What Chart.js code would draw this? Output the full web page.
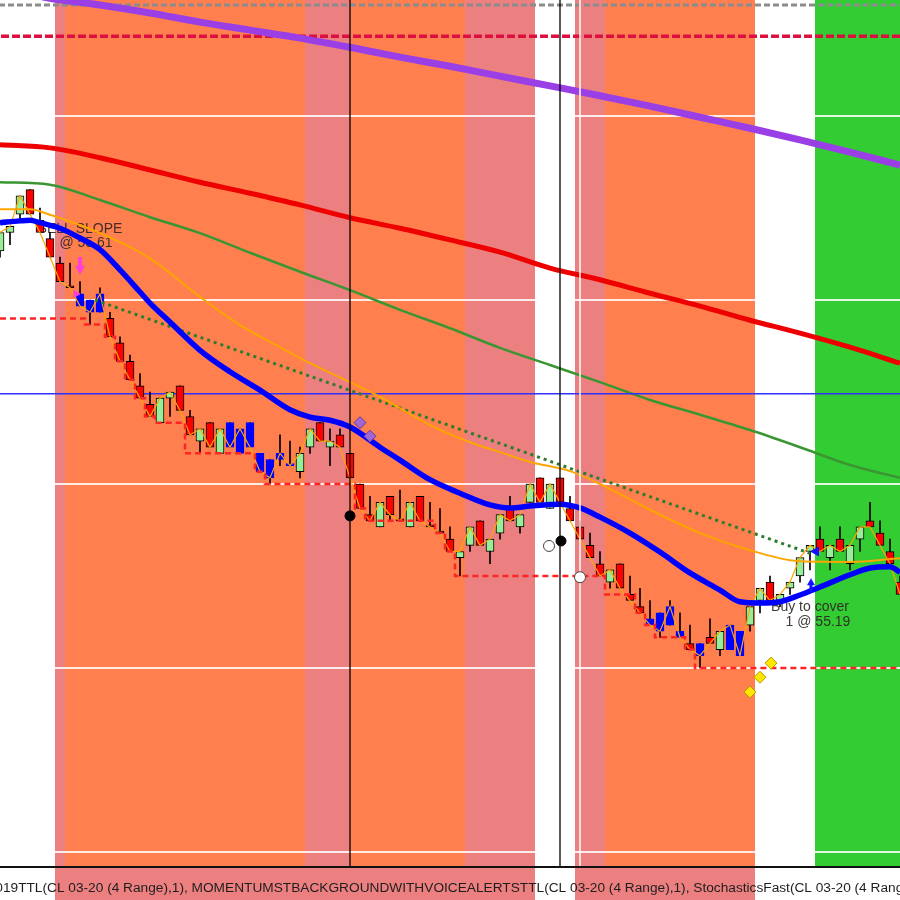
<!DOCTYPE html>
<html>
<head>
<meta charset="utf-8">
<title>CL 03-20 (4 Range)</title>
<script src="https://cdn.jsdelivr.net/npm/chart.js@4.4.1/dist/chart.umd.min.js"></script>
<style>
html,body{margin:0;padding:0;background:#ffffff;overflow:hidden;}
canvas{display:block;}
</style>
</head>
<body>
<canvas id="chart" width="900" height="900"></canvas>
<script>
// ---------- Candles: CL 03-20, 4-tick range bars (bar index = position) ----------
const opens  = [55.68,55.71,55.74,55.78,55.73,55.70,55.66,55.62,55.61,55.60,
                55.58,55.57,55.53,55.50,55.46,55.43,55.40,55.44,55.46,55.41,
                55.37,55.40,55.35,55.40,55.35,55.40,55.35,55.34,55.34,55.33,
                55.32,55.36,55.40,55.36,55.38,55.35,55.30,55.25,55.23,55.28,
                55.24,55.23,55.28,55.23,55.22,55.21,55.18,55.20,55.24,55.19,
                55.22,55.26,55.23,55.27,55.31,55.26,55.31,55.26,55.23,55.20,
                55.17,55.14,55.17,55.12,55.10,55.08,55.09,55.07,55.06,55.04,
                55.04,55.05,55.03,55.03,55.06,55.07,55.11,55.14,55.11,55.13,
                55.15,55.19,55.21,55.18,55.21,55.17,55.21,55.24,55.22,55.19,
                55.14];
const highs  = [55.71,55.72,55.77,55.78,55.75,55.71,55.67,55.66,55.63,55.60,
                55.62,55.58,55.54,55.51,55.48,55.45,55.44,55.45,55.46,55.42,
                55.39,55.40,55.39,55.40,55.39,55.40,55.35,55.34,55.38,55.37,
                55.36,55.39,55.40,55.39,55.39,55.35,55.30,55.28,55.27,55.28,
                55.29,55.27,55.28,55.27,55.26,55.23,55.19,55.23,55.24,55.21,
                55.25,55.28,55.25,55.30,55.31,55.30,55.31,55.28,55.24,55.22,
                55.19,55.16,55.17,55.15,55.13,55.11,55.09,55.11,55.09,55.07,
                55.04,55.08,55.06,55.07,55.06,55.10,55.13,55.15,55.12,55.14,
                55.18,55.20,55.23,55.20,55.23,55.20,55.23,55.27,55.24,55.21,
                55.15];
const lows   = [55.67,55.69,55.73,55.74,55.71,55.67,55.63,55.62,55.59,55.56,
                55.58,55.54,55.50,55.47,55.44,55.41,55.40,55.41,55.42,55.38,
                55.35,55.36,55.35,55.36,55.35,55.36,55.32,55.30,55.33,55.33,
                55.31,55.35,55.37,55.33,55.36,55.31,55.26,55.24,55.23,55.24,
                55.24,55.23,55.24,55.23,55.22,55.19,55.15,55.19,55.20,55.17,
                55.21,55.24,55.22,55.27,55.27,55.26,55.27,55.24,55.21,55.18,
                55.15,55.13,55.13,55.11,55.09,55.07,55.05,55.07,55.05,55.03,
                55.00,55.04,55.02,55.03,55.02,55.06,55.09,55.11,55.10,55.12,
                55.14,55.16,55.19,55.16,55.19,55.16,55.19,55.23,55.20,55.17,
                55.12];
const closes = [55.71,55.72,55.77,55.74,55.71,55.67,55.63,55.62,55.59,55.58,
                55.61,55.54,55.50,55.47,55.44,55.41,55.44,55.45,55.42,55.38,
                55.39,55.36,55.39,55.36,55.39,55.36,55.32,55.31,55.35,55.33,
                55.35,55.39,55.37,55.37,55.36,55.31,55.26,55.24,55.27,55.25,
                55.24,55.27,55.24,55.23,55.22,55.19,55.19,55.23,55.20,55.21,
                55.25,55.24,55.25,55.30,55.27,55.30,55.27,55.24,55.21,55.18,
                55.15,55.16,55.13,55.11,55.09,55.07,55.06,55.10,55.05,55.03,
                55.02,55.04,55.06,55.07,55.02,55.10,55.13,55.11,55.12,55.14,
                55.18,55.20,55.19,55.20,55.19,55.20,55.23,55.23,55.20,55.17,
                55.12];
// g = up bar, r = down bar, b = highlighted (blue) bar
const barKinds = ['g','g','g','r','r','r','r','r','b','b',
                  'b','r','r','r','r','r','g','g','r','r',
                  'g','r','g','b','b','b','b','b','b','b',
                  'g','g','r','g','r','r','r','r','g','r',
                  'r','g','r','r','r','r','g','g','r','g',
                  'g','r','g','g','r','g','r','r','r','r',
                  'r','g','r','r','r','b','b','b','b','r',
                  'b','r','g','b','b','g','g','r','g','g',
                  'g','g','r','g','r','g','g','r','r','r',
                  'r'];

// ---------- Moving averages (bar index, price) ----------
const purpleBars = [0,5,10,15,20,25,30,35,40,45,50,55,60,65,70,75,80,85,90];
const purpleVals = [56.109,56.092,56.081,56.068,56.053,56.040,56.027,56.012,55.996,55.981,55.965,55.949,55.933,55.916,55.898,55.880,55.861,55.841,55.820];
const redBars    = [0,5,10,15,20,25,30,35,40,45,50,55,60,65,70,75,80,85,90];
const redVals    = [55.853,55.848,55.832,55.812,55.792,55.774,55.755,55.734,55.717,55.698,55.678,55.652,55.633,55.611,55.590,55.567,55.546,55.523,55.497];
const greenBars  = [0,5,10,15,20,25,30,35,40,45,50,55,60,65,70,75,80,85,90];
const greenVals  = [55.792,55.788,55.763,55.735,55.709,55.677,55.646,55.616,55.584,55.554,55.522,55.494,55.466,55.437,55.413,55.388,55.360,55.331,55.310];
const orangeBars = [0,3,5,8,10,15,20,24,28,31,35,38,43,47,50,53,57,60,65,70,75,80,85,90];
const orangeVals = [55.748,55.748,55.739,55.722,55.709,55.668,55.605,55.559,55.523,55.497,55.466,55.442,55.396,55.368,55.352,55.336,55.321,55.300,55.258,55.220,55.192,55.174,55.173,55.179];
const blueBars   = [0,2,3,4,6,8,10,12,14,15,17,20,23,26,29,31,33,35,38,40,43,46,49,51,53,56,58,60,63,66,69,72,74,76,78,80,82,85,87,89,90];
const blueVals   = [55.726,55.729,55.730,55.726,55.717,55.701,55.682,55.649,55.613,55.595,55.564,55.518,55.483,55.453,55.421,55.409,55.404,55.393,55.360,55.339,55.307,55.285,55.266,55.261,55.264,55.267,55.261,55.246,55.220,55.189,55.155,55.127,55.108,55.106,55.108,55.119,55.132,55.152,55.163,55.165,55.156];

// ---------- Trailing stop (price per bar) ----------
const stopVals = [55.57,55.57,55.57,55.57,55.57,55.57,55.57,55.57,55.57,55.56,
                  55.56,55.54,55.50,55.47,55.44,55.41,55.40,55.40,55.40,55.35,
                  55.35,55.35,55.35,55.35,55.35,55.35,55.32,55.30,55.30,55.30,
                  55.30,55.30,55.30,55.30,55.30,55.30,55.26,55.24,55.24,55.24,
                  55.24,55.24,55.24,55.24,55.22,55.19,55.15,55.15,55.15,55.15,
                  55.15,55.15,55.15,55.15,55.15,55.15,55.15,55.15,55.15,55.15,
                  55.15,55.12,55.12,55.12,55.09,55.07,55.05,55.05,55.05,55.03,
                  55.00,55.00,55.00,55.00,55.00,55.00,55.00,55.00,55.00,55.00,
                  55.00,55.00,55.00,55.00,55.00,55.00,55.00,55.00,55.00,55.00,
                  55.00];

// ---------- Trend line & horizontal levels ----------
const trendBars = [9.5, 81];
const trendVals = [55.60, 55.187];
const blueLevel = 55.447;
const crimsonLevel = 56.030;
const grayLevel = 56.081;
const gridPrices = [54.7, 55.0, 55.3, 55.6, 55.9];
const viewMin = 54.6772, viewMax = 56.0891;
const firstBar = 0, lastBar = 90;

// ---------- Background regions (bar index ranges) ----------
const bandFrom  = [5.5, 6.5, 30.5, 35, 46.5, 53.5, 57.5, 60.5, 75.5, 81.5];
const bandTo    = [6.5, 30.5, 35, 46.5, 53.5, 57.5, 60.5, 75.5, 81.5, 90.5];
const bandKinds = ['pink','orange','pink','orange','pink','white','pink','orange','white','green'];
const lowerFrom = [5.5, 57.5];
const lowerTo   = [53.5, 75.5];

// ---------- Events / markers ----------
const eventLineBars = [35, 56];
const whiteLineBars = [58];
const blackDotBars = [35, 56.1];    const blackDotVals = [55.248, 55.207];
const whiteDotBars = [54.9, 58];    const whiteDotVals = [55.199, 55.148];
const purpleDiaBars = [36, 37];     const purpleDiaVals = [55.400, 55.378];
const yellowDiaBars = [75, 76, 77.1]; const yellowDiaVals = [54.961, 54.985, 55.008];
const sellArrowBar = 8, sellArrowVal = 55.656;
const sellEntryBar = 7.6, sellEntryVal = 55.61;
const coverArrowBar = 81.1, coverArrowVal = 55.135;
const coverEntryBar = 81.6, coverEntryVal = 55.19;

const noteTexts  = ['SELL SLOPE', '@ 55.61', 'Buy to cover', '1 @ 55.19'];
const noteBars   = [8.0, 8.6, 81.0, 81.8];
const noteVals   = [55.716, 55.693, 55.099, 55.075];
const footerText = '019TTL(CL 03-20 (4 Range),1), MOMENTUMSTBACKGROUNDWITHVOICEALERTSTTL(CL 03-20 (4 Range),1), StochasticsFast(CL 03-20 (4 Range),1)';

// ---------- styling ----------
const bandPalette = {pink:'#EC7F7F', orange:'#FF7F4F', white:'#FFFFFF', green:'#33CC33'};
const bodyFill   = {g:'#98EE98', r:'#FF0000', b:'#0000FF'};
const bodyBorder = {g:'#000000', r:'#000000', b:'#0000FF'};

const idx = opens.map((_, i) => i);
const pts = (xs, ys) => xs.map((x, i) => ({x: x, y: ys[i]}));

function arrowImage(color, dir, w, h) {
  const c = document.createElement('canvas');
  c.width = w; c.height = h;
  const g = c.getContext('2d');
  g.fillStyle = color;
  const sw = Math.max(2, Math.round(w * 0.38));
  const headH = Math.round(h * 0.5);
  if (dir === 'down') {
    g.fillRect((w - sw) / 2, 0, sw, h - headH + 1);
    g.beginPath(); g.moveTo(0, h - headH); g.lineTo(w, h - headH); g.lineTo(w / 2, h); g.closePath(); g.fill();
  } else {
    g.fillRect((w - sw) / 2, headH - 1, sw, h - headH + 1);
    g.beginPath(); g.moveTo(0, headH); g.lineTo(w, headH); g.lineTo(w / 2, 0); g.closePath(); g.fill();
  }
  return c;
}
const sellArrowImg = arrowImage('#FF3FD8', 'down', 10, 18);
const coverArrowImg = arrowImage('#1010FF', 'up', 8, 14);

const base = {pointRadius: 0, pointHoverRadius: 0, fill: false, clip: 0};

const datasets = [
  Object.assign({type:'line', data: pts([firstBar - 1, lastBar + 1], [grayLevel, grayLevel]), borderColor:'#8C8C8C', borderWidth:3, borderDash:[6,3], order:40}, base),
  Object.assign({type:'line', data: pts([firstBar - 1, lastBar + 1], [crimsonLevel, crimsonLevel]), borderColor:'#DC1040', borderWidth:3.5, borderDash:[8,3], order:39}, base),
  Object.assign({type:'line', data: pts(purpleBars, purpleVals), borderColor:'#9A3FE6', borderWidth:7, cubicInterpolationMode:'monotone', order:38}, base),
  Object.assign({type:'line', data: pts(redBars, redVals), borderColor:'#EE0000', borderWidth:5, cubicInterpolationMode:'monotone', order:37}, base),
  Object.assign({type:'line', data: pts(greenBars, greenVals), borderColor:'#3A9632', borderWidth:2.5, cubicInterpolationMode:'monotone', order:36}, base),
  Object.assign({type:'line', data: pts([firstBar - 1, lastBar + 1], [blueLevel, blueLevel]), borderColor:'#3030FF', borderWidth:1.5, order:35}, base),
  // candles
  {type:'bar', data: idx.map(i => ({x:i, y:[lows[i], highs[i]]})), backgroundColor:'#000000', barThickness:1, grouped:false, order:30, clip:0},
  {type:'bar', data: idx.map(i => ({x:i, y:[opens[i], closes[i]]})),
    backgroundColor: idx.map(i => bodyFill[barKinds[i]]),
    borderColor: idx.map(i => bodyBorder[barKinds[i]]),
    borderWidth:1, borderSkipped:false, barThickness:8, minBarLength:2, grouped:false, order:29, clip:0},
  Object.assign({type:'line', data: pts(idx, closes), borderColor:'#FFA500', borderWidth:1.2, order:28}, base),
  Object.assign({type:'line', data: pts(idx, stopVals), borderColor:'#FF2424', borderWidth:2.5, borderDash:[6,4], stepped:'middle', order:27}, base),
  Object.assign({type:'line', data: pts(trendBars, trendVals), borderColor:'#2E7D2E', borderWidth:3, borderDash:[3,4], order:26}, base),
  Object.assign({type:'line', data: pts(orangeBars, orangeVals), borderColor:'#FFA500', borderWidth:2, cubicInterpolationMode:'monotone', order:25}, base),
  Object.assign({type:'line', data: pts(blueBars, blueVals), borderColor:'#0000FF', borderWidth:5.5, cubicInterpolationMode:'monotone', order:24}, base),
  // event verticals
  Object.assign({type:'line', data: [{x:eventLineBars[0], y:viewMin}, {x:eventLineBars[0], y:viewMax}], borderColor:'#000000', borderWidth:1.3, order:20}, base),
  Object.assign({type:'line', data: [{x:eventLineBars[1], y:viewMin}, {x:eventLineBars[1], y:viewMax}], borderColor:'#000000', borderWidth:1.3, order:20}, base),
  Object.assign({type:'line', data: [{x:whiteLineBars[0], y:viewMin}, {x:whiteLineBars[0], y:viewMax}], borderColor:'#FFFFFF', borderWidth:1.5, order:20}, base),
  // markers
  {type:'line', showLine:false, data: pts(purpleDiaBars, purpleDiaVals), pointStyle:'rectRot', pointRadius:6, pointBackgroundColor:'#A066D4', pointBorderColor:'#6A3C9A', pointBorderWidth:1, order:5, clip:0},
  {type:'line', showLine:false, data: pts(yellowDiaBars, yellowDiaVals), pointStyle:'rectRot', pointRadius:6, pointBackgroundColor:'#FFE600', pointBorderColor:'#B89A00', pointBorderWidth:1, order:5, clip:0},
  {type:'line', showLine:false, data: pts(blackDotBars, blackDotVals), pointStyle:'circle', pointRadius:5, pointBackgroundColor:'#000000', pointBorderColor:'#000000', order:4, clip:0},
  {type:'line', showLine:false, data: pts(whiteDotBars, whiteDotVals), pointStyle:'circle', pointRadius:5.5, pointBackgroundColor:'#FFFFFF', pointBorderColor:'#444444', pointBorderWidth:1, order:4, clip:0},
  {type:'line', showLine:false, data: [{x:sellArrowBar, y:sellArrowVal}], pointStyle: sellArrowImg, order:3, clip:0},
  {type:'line', showLine:false, data: [{x:sellEntryBar, y:sellEntryVal}], pointStyle:'triangle', rotation:90, pointRadius:4, pointBackgroundColor:'#FF3FD8', pointBorderColor:'#FF3FD8', order:3, clip:0},
  {type:'line', showLine:false, data: [{x:coverArrowBar, y:coverArrowVal}], pointStyle: coverArrowImg, order:3, clip:0},
  {type:'line', showLine:false, data: [{x:coverEntryBar, y:coverEntryVal}], pointStyle:'triangle', rotation:270, pointRadius:5, pointBackgroundColor:'#1010FF', pointBorderColor:'#1010FF', order:3, clip:0}
];

const decor = {
  id: 'decor',
  beforeDraw(chart) {
    const {ctx, chartArea: a, scales: {x}} = chart;
    ctx.save();
    ctx.fillStyle = '#FFFFFF';
    ctx.fillRect(0, 0, chart.width, chart.height);
    const clampX = v => Math.max(a.left, Math.min(a.right, x.getPixelForValue(v)));
    for (let k = 0; k < bandFrom.length; k++) {
      const x0 = clampX(bandFrom[k]), x1 = clampX(bandTo[k]);
      ctx.fillStyle = bandPalette[bandKinds[k]];
      ctx.fillRect(x0, a.top, x1 - x0, a.bottom - a.top);
    }
    for (let k = 0; k < lowerFrom.length; k++) {
      const x0 = clampX(lowerFrom[k]), x1 = clampX(lowerTo[k]);
      ctx.fillStyle = bandPalette.pink;
      ctx.fillRect(x0, a.bottom, x1 - x0, chart.height - a.bottom);
    }
    ctx.restore();
  },
  beforeDatasetsDraw(chart) {
    const {ctx, scales: {x, y}} = chart;
    ctx.save();
    ctx.font = '14px "Liberation Sans", Arial, sans-serif';
    ctx.fillStyle = 'rgba(45,35,35,0.9)';
    ctx.textAlign = 'center';
    ctx.textBaseline = 'middle';
    noteTexts.forEach((t, k) => ctx.fillText(t, x.getPixelForValue(noteBars[k]), y.getPixelForValue(noteVals[k])));
    ctx.restore();
  },
  afterDraw(chart) {
    const {ctx, chartArea: a} = chart;
    ctx.save();
    ctx.strokeStyle = '#111111';
    ctx.lineWidth = 2;
    ctx.beginPath(); ctx.moveTo(0, a.bottom + 1); ctx.lineTo(chart.width, a.bottom + 1); ctx.stroke();
    ctx.font = '13.7px "Liberation Sans", Arial, sans-serif';
    ctx.fillStyle = '#1E1E1E';
    ctx.textBaseline = 'alphabetic';
    const lead = ctx.measureText('0').width;
    ctx.fillText(footerText, 1 - lead * 0.75, a.bottom + 26);
    ctx.restore();
  }
};

new Chart(document.getElementById('chart'), {
  type: 'bar',
  data: { datasets: datasets },
  options: {
    responsive: false,
    animation: false,
    devicePixelRatio: 1,
    layout: { autoPadding: false, padding: { left: 0, right: 0, top: 0, bottom: 34 } },
    plugins: { legend: { display: false }, tooltip: { enabled: false } },
    events: [],
    scales: {
      x: { type: 'linear', min: firstBar, max: lastBar, offset: false, display: false },
      y: {
        type: 'linear', min: viewMin, max: viewMax,
        afterFit(s) { s.width = 0; },
        afterBuildTicks(s) { s.ticks = gridPrices.map(v => ({value: v})); },
        ticks: { display: false },
        border: { display: false },
        grid: { color: 'rgba(255,255,255,0.85)', lineWidth: 2, drawTicks: false }
      }
    }
  },
  plugins: [decor]
});
</script>
</body>
</html>
